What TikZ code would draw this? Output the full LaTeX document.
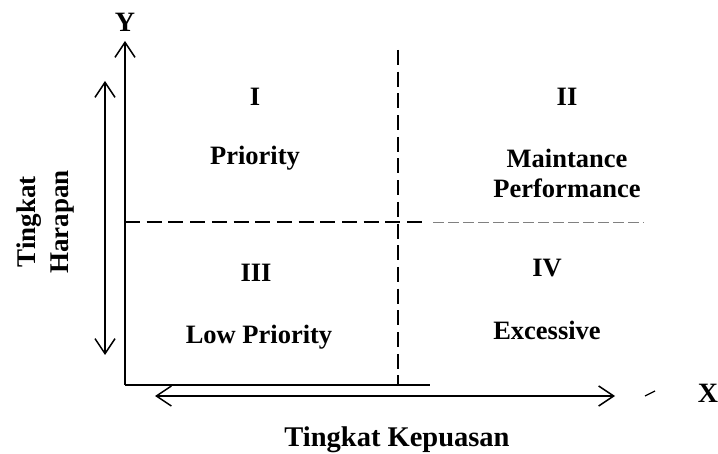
\documentclass[tikz,border=0pt]{standalone}
\usepackage{fontspec}
\setmainfont{Liberation Serif}
\usetikzlibrary{arrows.meta}
\begin{document}
\begin{tikzpicture}[x=1pt,y=-1pt,
  lbl/.style={font=\bfseries\fontsize{26.5}{30}\selectfont, inner sep=0pt, align=center},
  ttl/.style={font=\bfseries\fontsize{28.5}{33}\selectfont, inner sep=0pt, align=center},
  axlbl/.style={font=\bfseries\fontsize{28}{30}\selectfont, inner sep=0pt},
  axis/.style={line width=1.5pt},
  dbl/.style={line width=1.5pt, {Straight Barb[length=15pt,width=20pt]}-{Straight Barb[length=15pt,width=20pt]}},
  dsh/.style={line width=1.6pt, dash pattern=on 15pt off 6.7pt},
  thindsh/.style={line width=0.8pt, gray, dash pattern=on 11pt off 4pt}]
\useasboundingbox (0,0) rectangle (718,454);
% coordinates
\coordinate (O) at (125,385);
\coordinate (Ytop) at (125,41);
\coordinate (Xend) at (430,385);
\coordinate (Vt) at (398,50);
\coordinate (Vb) at (398,385);
\coordinate (Hl) at (125,222);
\coordinate (Hm) at (428,222);
\coordinate (Hn) at (433,222);
\coordinate (Hr) at (644,222);
\coordinate (La) at (105,81);
\coordinate (Lb) at (105,355);
\coordinate (Ba) at (155,396);
\coordinate (Bb) at (615,396);
\coordinate (Ma) at (645,396);
\coordinate (Mb) at (655,391);
% axes
\draw[axis,-{Straight Barb[length=15pt,width=20pt]}] (O) -- (Ytop);
\draw[axis] (O) -- (Xend);
\draw[dbl] (La) -- (Lb);
\draw[dbl] (Ba) -- (Bb);
\draw[line width=1.2pt] (Ma) -- (Mb);
% dashed dividers
\draw[dsh] (Vt) -- (Vb);
\draw[dsh] (Hl) -- (Hm);
\draw[thindsh] (Hn) -- (Hr);
% labels
\node[axlbl] (ylab) at (125,22) {Y};
\node[axlbl] (xlab) at (708,393) {X};
\node[lbl] (q1) at (255,97) {I};
\node[lbl] (q1t) at (255,158) {Priority};
\node[lbl] (q2) at (567,97) {II};
\node[lbl] (q2t) at (567,173) {Maintance\\Performance};
\node[lbl] (q3) at (256,273) {III};
\node[lbl] (q3t) at (259,337) {Low Priority};
\node[lbl] (q4) at (547,268) {IV};
\node[lbl] (q4t) at (547,330) {Excessive};
\node[ttl] (xt) at (397,440) {Tingkat Kepuasan};
\node[lbl, rotate=90, font=\bfseries\fontsize{27}{33}\selectfont] (yt) at (46,222) {Tingkat\\Harapan};
\end{tikzpicture}
\end{document}
